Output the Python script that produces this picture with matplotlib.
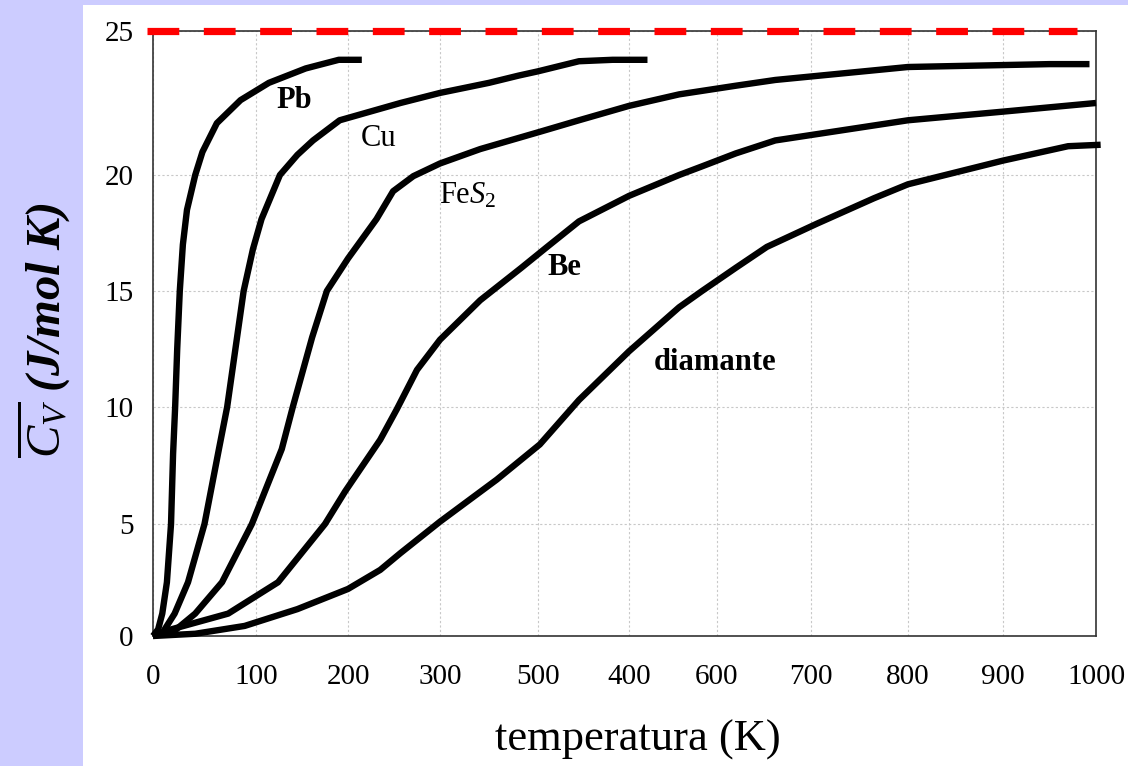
import matplotlib
matplotlib.use("Agg")
import numpy as np
import matplotlib.pyplot as plt
from matplotlib.patches import Rectangle
from matplotlib.ticker import NullLocator

# ---------------- data ----------------
pb_T = [0, 5, 9, 13.5, 17.5, 19.5, 21.5, 23.5, 26, 29, 33, 41, 48, 62, 85, 114, 154, 190, 215]
pb_C = [0, 0.3, 1.0, 2.4, 5.0, 8.0, 10.0, 12.5, 15.0, 17.0, 18.5, 20.0, 20.8, 21.8, 22.6, 23.2, 23.7, 24.0, 24.0]

cu_T = [0, 10, 21, 34, 50, 64, 72, 80, 88, 97, 106, 126, 145, 162, 191, 235, 257, 300, 350, 380, 400, 445, 482, 521]
cu_C = [0, 0.2, 1.0, 2.4, 5.0, 8.2, 10.0, 12.5, 15.0, 16.8, 18.1, 20.0, 20.7, 21.2, 21.9, 22.3, 22.5, 22.85, 23.2, 23.45, 23.6, 23.95, 24.0, 24.0]

fes2_T = [0, 20, 41, 67, 96, 128, 140, 161, 177, 200, 231, 249, 271, 300, 341, 402, 445, 500, 557, 620, 662, 800, 950, 993]
fes2_C = [0, 0.2, 1.0, 2.4, 5.0, 8.2, 10.0, 13.0, 15.0, 16.4, 18.1, 19.3, 19.95, 20.4, 20.9, 21.5, 21.9, 22.4, 22.8, 23.1, 23.3, 23.75, 23.85, 23.85]

be_T = [0, 18, 73, 124, 175, 197, 235, 253, 275, 300, 341, 383, 410, 445, 500, 557, 583, 620, 662, 800, 900, 1000]
be_C = [0, 0.3, 1.0, 2.4, 5.0, 6.4, 8.6, 9.9, 11.6, 12.9, 14.6, 16.0, 16.9, 18.0, 19.1, 20.0, 20.3, 20.75, 21.2, 21.9, 22.2, 22.5]

dia_T = [0, 41, 89, 145, 200, 235, 257, 300, 358, 402, 445, 500, 557, 583, 620, 653, 706, 765, 800, 900, 970, 1005]
dia_C = [0, 0.1, 0.45, 1.2, 2.1, 2.95, 3.7, 5.1, 6.9, 8.4, 10.3, 12.4, 14.3, 15.0, 16.0, 16.9, 17.9, 19.0, 19.6, 20.5, 21.0, 21.05]

curve_names = ["Pb", "Cu", "Fe$S_2$", "Be", "diamante"]
label_T = [142, 233, 328, 429, 598]
label_C = [22.6, 21.25, 19.1, 16.0, 11.9]

dulong_petit = 25.0
dp_T_range = [-6, 980]

x_ticks = [0, 100, 200, 300, 400, 500, 600, 700, 800, 900, 1000]
x_ticklabels = ["0", "100", "200", "300", "500", "400", "600", "700", "800", "900", "1000"]
y_ticks = [0, 5, 10, 15, 20, 25]
y_ticklabels = ["0", "5", "10", "15", "20", "25"]

# ---------------- axis geometry of the scanned chart (non-uniform grid) ----------------
x_grid_px = [0, 103, 195, 287, 385, 476, 564, 658, 755, 850, 943]   # px from left spine
y_grid_px = [0, 112, 229, 345, 461, 605]                             # px from bottom spine


def piecewise_scale(vals, pos):
    vals = np.asarray(vals, float)
    pos = np.asarray(pos, float)

    def _map(v, a, b):
        v = np.asarray(v, float)
        out = np.interp(v, a, b)
        s0 = (b[1] - b[0]) / (a[1] - a[0])
        s1 = (b[-1] - b[-2]) / (a[-1] - a[-2])
        out = np.where(v < a[0], b[0] + (v - a[0]) * s0, out)
        out = np.where(v > a[-1], b[-1] + (v - a[-1]) * s1, out)
        return out

    return (lambda v: _map(v, vals, pos)), (lambda p: _map(p, pos, vals))


# ---------------- style ----------------
plt.rcParams["font.family"] = ["Liberation Serif", "DejaVu Serif"]
plt.rcParams["mathtext.fontset"] = "custom"
plt.rcParams["mathtext.rm"] = "Liberation Serif"
plt.rcParams["mathtext.it"] = "Liberation Serif:italic"
plt.rcParams["mathtext.bf"] = "Liberation Serif:bold"

W, H = 1128, 766
fig = plt.figure(figsize=(W / 100, H / 100), dpi=100, facecolor="#ccccff")
fig.patches.append(Rectangle((83 / W, 0), 1 - 83 / W, 1 - 5 / H,
                             transform=fig.transFigure, facecolor="white",
                             edgecolor="none", zorder=-10))

ax = fig.add_axes([153 / W, 1 - 636 / H, (1096 - 153) / W, (636 - 31) / H])
ax.set_facecolor("white")
ax.set_xscale("function", functions=piecewise_scale(x_ticks, x_grid_px))
ax.set_yscale("function", functions=piecewise_scale(y_ticks, y_grid_px))

curves = [(pb_T, pb_C), (cu_T, cu_C), (fes2_T, fes2_C), (be_T, be_C), (dia_T, dia_C)]
for T, C in curves:
    ax.plot(T, C, color="black", lw=4.6, solid_joinstyle="round",
            solid_capstyle="butt", clip_on=False, zorder=3)

ax.plot(dp_T_range, [dulong_petit, dulong_petit], color="#ff0000", lw=5.2,
        linestyle=(0, (4.4, 3.4)), clip_on=False, zorder=4)

label_weight = ["bold", "normal", "normal", "bold", "bold"]
for name, t, c, w in zip(curve_names, label_T, label_C, label_weight):
    ax.text(t, c, name, fontsize=22, fontweight=w, ha="center", va="center",
            color="black", zorder=5)

ax.set_xlim(0, 1000)
ax.set_ylim(0, 25)
ax.set_xticks(x_ticks)
ax.set_xticklabels(x_ticklabels)
ax.set_yticks(y_ticks)
ax.set_yticklabels(y_ticklabels)
ax.xaxis.set_minor_locator(NullLocator())
ax.yaxis.set_minor_locator(NullLocator())
ax.tick_params(axis="both", length=0, labelsize=21, colors="black")
ax.tick_params(axis="x", pad=20)
ax.tick_params(axis="y", pad=14)
ax.grid(True, color="#c8c8c8", linestyle=(0, (2, 2)), lw=0.8, zorder=0)
for s in ax.spines.values():
    s.set_color("#333333")
    s.set_linewidth(1.2)

ax.set_xlabel("temperatura (K)", fontsize=32, va="center")
ax.xaxis.set_label_coords((638 - 153) / (1096 - 153), (636 - 740) / (636 - 31))
ax.set_ylabel(r"$\overline{C_V}$ (J/mol K)", fontsize=35, fontweight="bold",
              fontstyle="italic", va="center", ha="center")
ax.yaxis.set_label_coords((43 - 153) / (1096 - 153), (636 - 330) / (636 - 31))

fig.savefig("out.png", dpi=100, facecolor=fig.get_facecolor())
